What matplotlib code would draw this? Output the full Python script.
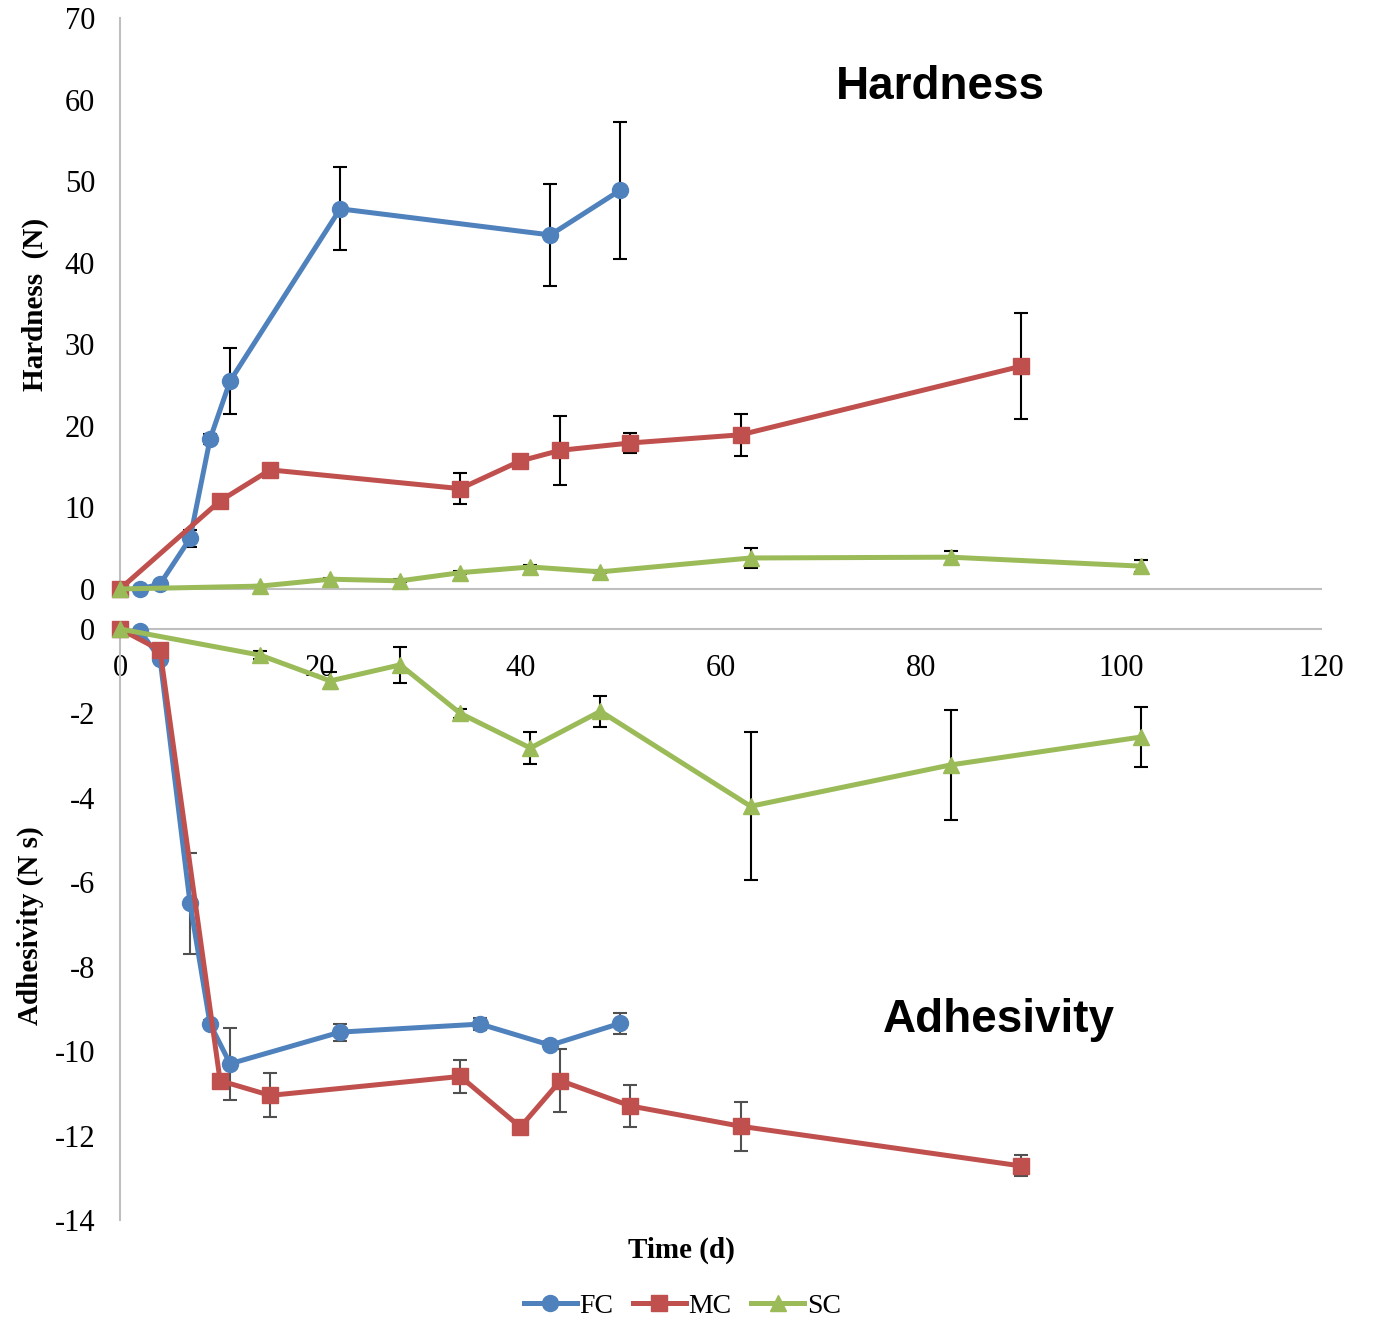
import numpy as np
import matplotlib
matplotlib.use("Agg")
import matplotlib.pyplot as plt
from matplotlib.lines import Line2D

plt.rcParams["axes.unicode_minus"] = False

# hardness (N) vs storage time (d)
fc_h_day = [2, 4, 7, 9, 11, 22, 43, 50]
fc_h = [0.0, 0.6, 6.2, 18.4, 25.5, 46.6, 43.4, 48.9]
fc_h_err = [0.1, 0.2, 1.0, 0.6, 4.1, 5.1, 6.2, 8.4]

mc_h_day = [0, 10, 15, 34, 40, 44, 51, 62, 90]
mc_h = [0.0, 10.8, 14.6, 12.3, 15.7, 17.0, 17.9, 18.9, 27.3]
mc_h_err = [0.0, 0.2, 0.4, 1.9, 0.6, 4.2, 1.2, 2.6, 6.5]

sc_h_day = [0, 14, 21, 28, 34, 41, 48, 63, 83, 102]
sc_h = [0.0, 0.35, 1.2, 1.0, 2.0, 2.7, 2.1, 3.8, 3.9, 2.8]
sc_h_err = [0.0, 0.1, 0.1, 0.2, 0.2, 0.2, 0.2, 1.2, 0.8, 0.7]

# adhesivity (N s) vs storage time (d)
fc_a_day = [2, 4, 7, 9, 11, 22, 36, 43, 50]
fc_a = [-0.05, -0.7, -6.5, -9.36, -10.3, -9.55, -9.36, -9.86, -9.34]
fc_a_err = [0.05, 0.1, 1.2, 0.1, 0.85, 0.2, 0.15, 0.1, 0.25]

mc_a_day = [0, 4, 10, 15, 34, 40, 44, 51, 62, 90]
mc_a = [0.0, -0.5, -10.7, -11.05, -10.6, -11.8, -10.7, -11.3, -11.78, -12.72]
mc_a_err = [0.0, 0.1, 0.1, 0.52, 0.4, 0.1, 0.75, 0.5, 0.58, 0.25]

sc_a_day = [0, 14, 21, 28, 34, 41, 48, 63, 83, 102]
sc_a = [0.0, -0.62, -1.23, -0.85, -2.0, -2.82, -1.95, -4.2, -3.22, -2.56]
sc_a_err = [0.0, 0.1, 0.2, 0.42, 0.1, 0.37, 0.37, 1.75, 1.3, 0.72]

blue = "#4F81BD"
red = "#C0504D"
green = "#9BBB59"
grid_grey = "#BFBFBF"

serif = "Liberation Serif"
sans = "Liberation Sans"

fig = plt.figure(figsize=(13.73, 13.2), dpi=100)
ax1 = fig.add_axes([0.0874, 0.5538, 0.8748, 0.4326])
ax2 = fig.add_axes([0.0874, 0.0758, 0.8748, 0.4477])


def draw_series(ax, x, y, err, color, marker, ecolor):
    ax.errorbar(x, y, yerr=err, fmt="none", ecolor=ecolor, elinewidth=1.5,
                capsize=5, capthick=1.5, zorder=2, clip_on=False)
    ax.plot(x, y, color=color, lw=3.6, marker=marker, markersize=11.5,
            zorder=3, clip_on=False)


draw_series(ax1, fc_h_day, fc_h, fc_h_err, blue, "o", "black")
draw_series(ax1, mc_h_day, mc_h, mc_h_err, red, "s", "black")
draw_series(ax1, sc_h_day, sc_h, sc_h_err, green, "^", "black")

draw_series(ax2, fc_a_day, fc_a, fc_a_err, blue, "o", "#505050")
draw_series(ax2, mc_a_day, mc_a, mc_a_err, red, "s", "#505050")
draw_series(ax2, sc_a_day, sc_a, sc_a_err, green, "^", "black")

ax1.set_xlim(0, 120)
ax1.set_ylim(0, 70)
ax1.set_yticks(np.arange(0, 71, 10))
ax1.set_xticks([])

ax2.set_xlim(0, 120)
ax2.set_ylim(-14, 0)
ax2.set_yticks(np.arange(-14, 1, 2))
ax2.set_xticks(np.arange(0, 121, 20))
ax2.spines["bottom"].set_position(("data", 0))

for ax in (ax1, ax2):
    for s in ("top", "right"):
        ax.spines[s].set_visible(False)
    for s in ("left", "bottom"):
        ax.spines[s].set_color(grid_grey)
        ax.spines[s].set_linewidth(1.5)
    ax.tick_params(axis="y", length=0, pad=18, labelsize=22)
    ax.tick_params(axis="x", length=0, pad=18, labelsize=22)
    for lab in ax.get_xticklabels() + ax.get_yticklabels():
        lab.set_fontfamily(serif)

fig.text(0.0255, 0.769, "Hardness  (N)", rotation=90, ha="center",
         va="center", fontsize=21, fontweight="bold", family=serif)
fig.text(0.0218, 0.299, "Adhesivity (N s)", rotation=90, ha="center",
         va="center", fontsize=21, fontweight="bold", family=serif)
fig.text(0.496, 1 - 1250 / 1320, "Time (d)", ha="center", va="center",
         fontsize=21, fontweight="bold", family=serif)

fig.text(940 / 1373, 1 - 87 / 1320, "Hardness", ha="center", va="center",
         fontsize=33, fontweight="bold", family=sans)
fig.text(999 / 1373, 1 - 1020 / 1320, "Adhesivity", ha="center",
         va="center", fontsize=33, fontweight="bold", family=sans)

handles = [
    Line2D([], [], color=blue, lw=3.6, marker="o", markersize=11.5),
    Line2D([], [], color=red, lw=3.6, marker="s", markersize=11.5),
    Line2D([], [], color=green, lw=3.6, marker="^", markersize=11.5),
]
fig.legend(handles, ["FC", "MC", "SC"], loc="center",
           bbox_to_anchor=(0.497, 1 - 1306 / 1320), ncol=3, frameon=False,
           prop={"family": serif, "size": 20}, handlelength=1.9,
           handletextpad=0.1, columnspacing=0.7)

fig.savefig("out.png", dpi=100)
